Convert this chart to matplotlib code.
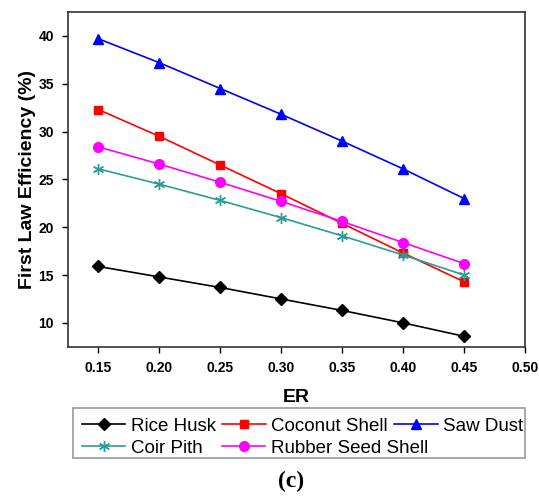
import matplotlib.pyplot as plt
from matplotlib.patches import Rectangle

plt.rcParams['font.family'] = ['Liberation Sans', 'DejaVu Sans']

er = [0.15, 0.20, 0.25, 0.30, 0.35, 0.40, 0.45]
rice_husk = [15.9, 14.8, 13.7, 12.5, 11.3, 10.0, 8.6]
coconut_shell = [32.3, 29.5, 26.5, 23.5, 20.4, 17.3, 14.3]
saw_dust = [39.7, 37.2, 34.5, 31.8, 29.0, 26.1, 23.0]
coir_pith = [26.1, 24.5, 22.8, 21.0, 19.1, 17.1, 15.0]
rubber_seed = [28.4, 26.6, 24.7, 22.7, 20.6, 18.4, 16.2]

fig = plt.figure(figsize=(5.39, 4.99), dpi=100)
ax = fig.add_axes([0.126, 0.305, 0.848, 0.671])

l_rice, = ax.plot(er, rice_husk, color='black', marker='D', markersize=6, lw=1.2, label='Rice Husk')
l_coco, = ax.plot(er, coconut_shell, color='red', marker='s', markersize=6, lw=1.2, label='Coconut Shell')
l_saw, = ax.plot(er, saw_dust, color='blue', marker='^', markersize=7, lw=1.2, label='Saw Dust')
l_coir, = ax.plot(er, coir_pith, color='#2a9d94', marker=(6, 2, 0), markersize=8, mew=1, lw=1.2, label='Coir Pith')
l_rub, = ax.plot(er, rubber_seed, color='magenta', marker='o', markersize=7, lw=1.2, label='Rubber Seed Shell')

ax.set_xlim(0.125, 0.50)
ax.set_ylim(7.5, 42.5)
ax.set_xticks([0.15, 0.20, 0.25, 0.30, 0.35, 0.40, 0.45, 0.50])
ax.set_xticklabels(['0.15', '0.20', '0.25', '0.30', '0.35', '0.40', '0.45', '0.50'])
ax.set_yticks([10, 15, 20, 25, 30, 35, 40])
for lab in ax.get_xticklabels() + ax.get_yticklabels():
    lab.set_fontweight('bold')
    lab.set_fontsize(10)
ax.tick_params(direction='out', length=4, width=1, pad=6)
for s in ax.spines.values():
    s.set_linewidth(1.2)
    s.set_color('#333333')

ax.set_xlabel('ER', fontsize=14, fontweight='bold')
ax.xaxis.set_label_coords(0.5, -0.125)
ax.set_ylabel('First Law Efficiency (%)', fontsize=14, fontweight='bold')
ax.yaxis.set_label_coords(-0.07, 0.5)

# Origin-style legend: items flow row by row; second row item overflows column 3
leg_kw = dict(loc='center left', fontsize=13.5, frameon=False, handlelength=2.3,
              handletextpad=0.3, columnspacing=0.35, borderpad=0, borderaxespad=0)
fig.legend([l_rice, l_coco, l_saw], ['Rice Husk', 'Coconut Shell', 'Saw Dust'],
           ncol=3, bbox_to_anchor=(82 / 539, 1 - 426 / 499), **leg_kw)
fig.legend([l_coir], ['Coir Pith'],
           bbox_to_anchor=(82 / 539, 1 - 448 / 499), **leg_kw)
fig.legend([l_rub], ['Rubber Seed Shell'],
           bbox_to_anchor=(222 / 539, 1 - 448 / 499), **leg_kw)
fig.add_artist(Rectangle((73 / 539, 1 - 458 / 499), 452 / 539, 50 / 499,
                         transform=fig.transFigure, fill=False,
                         ec='#999999', lw=1.2))

fig.text(0.54, 0.035, '(c)', fontsize=17, fontweight='bold', family='Liberation Serif',
         ha='center', va='center')

fig.savefig('out.png', dpi=100)
